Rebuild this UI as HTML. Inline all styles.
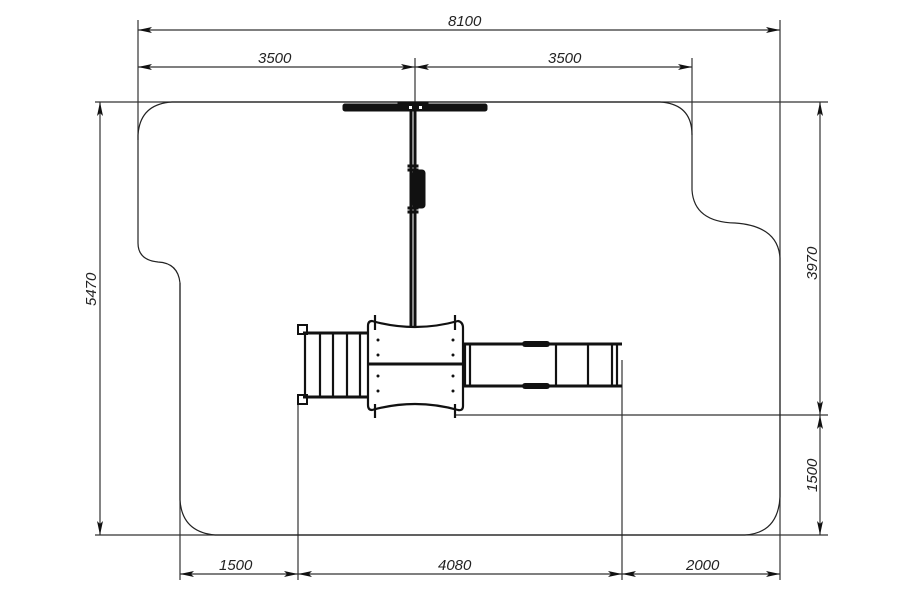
<!DOCTYPE html>
<html><head><meta charset="utf-8"><style>
html,body{margin:0;padding:0;background:#fff;}
svg{display:block}
text{font-family:"Liberation Sans",sans-serif;font-style:italic;font-size:15px;fill:#222}
</style></head><body>
<svg width="900" height="600" viewBox="0 0 900 600">
<defs>
<marker id="a" viewBox="0 0 14 6" refX="14" refY="3" markerWidth="14" markerHeight="6" orient="auto-start-reverse" markerUnits="userSpaceOnUse"><path d="M0,0 L14,3 L0,6 L3,3 Z" fill="#111"/></marker>
</defs>
<g stroke="#333" stroke-width="1.2" fill="none">
<line x1="138" y1="20" x2="138" y2="140"/>
<line x1="780" y1="20" x2="780" y2="580"/>
<line x1="415" y1="58" x2="415" y2="102"/>
<line x1="692" y1="58" x2="692" y2="135"/>
<line x1="95" y1="102" x2="828" y2="102"/>
<line x1="95" y1="535" x2="828" y2="535"/>
<line x1="455" y1="415" x2="828" y2="415"/>
<line x1="180" y1="283" x2="180" y2="580"/>
<line x1="298" y1="398" x2="298" y2="580"/>
<line x1="622" y1="360" x2="622" y2="580"/>
<line x1="138" y1="30" x2="780" y2="30" marker-start="url(#a)" marker-end="url(#a)"/>
<line x1="138" y1="67" x2="415" y2="67" marker-start="url(#a)" marker-end="url(#a)"/>
<line x1="415" y1="67" x2="692" y2="67" marker-start="url(#a)" marker-end="url(#a)"/>
<line x1="100" y1="102" x2="100" y2="535" marker-start="url(#a)" marker-end="url(#a)"/>
<line x1="820" y1="102" x2="820" y2="415" marker-start="url(#a)" marker-end="url(#a)"/>
<line x1="820" y1="415" x2="820" y2="535" marker-start="url(#a)" marker-end="url(#a)"/>
<line x1="180" y1="574" x2="298" y2="574" marker-start="url(#a)" marker-end="url(#a)"/>
<line x1="298" y1="574" x2="622" y2="574" marker-start="url(#a)" marker-end="url(#a)"/>
<line x1="622" y1="574" x2="780" y2="574" marker-start="url(#a)" marker-end="url(#a)"/>
<path stroke="#222" d="M172,102 L660,102 Q692,104 692,135 L692,190 Q694,222 735,223 Q778,226 780,258 L780,497 Q778,533 745,535 L215,535 Q182,532 180,500 L180,283 Q178,263 158,262 Q138,260 138,243 L138,135 Q140,104 172,102 Z"/>
</g>
<text x="258" y="63">3500</text>
<text x="548" y="63">3500</text>
<text x="448" y="26">8100</text>
<text x="219" y="570">1500</text>
<text x="438" y="570">4080</text>
<text x="686" y="570">2000</text>
<text transform="translate(96,306) rotate(-90)">5470</text>
<text transform="translate(817,280) rotate(-90)">3970</text>
<text transform="translate(817,492) rotate(-90)">1500</text>
<g fill="#111" stroke="#111">
<rect x="343" y="104" width="144" height="7" rx="2"/>
<rect x="398" y="102" width="30" height="4"/>
<rect x="410" y="110" width="2" height="216"/>
<rect x="414" y="110" width="2" height="216"/>
<rect x="408" y="165" width="10" height="2"/><rect x="408" y="169" width="10" height="2"/>
<rect x="408" y="207" width="10" height="2"/><rect x="408" y="211" width="10" height="2"/>
<rect x="413" y="170" width="12" height="38" rx="3"/>
</g>
<rect x="409" y="106" width="3" height="3" fill="#fff"/><rect x="419" y="106" width="3" height="3" fill="#fff"/>
<g stroke="#111" stroke-width="2.2" fill="none">
<path d="M372,321 Q415,333 458,321 Q463,322 463,328 L463,406 Q463,411 458,410 Q415,398 372,410 Q368,410 368,405 L368,326 Q368,321 372,321 Z" fill="#fff"/>
<line x1="369" y1="364" x2="462" y2="364" stroke-width="3"/>
<line x1="375" y1="315" x2="375" y2="330"/><line x1="455" y1="315" x2="455" y2="330"/>
<line x1="375" y1="404" x2="375" y2="418"/><line x1="455" y1="404" x2="455" y2="418"/>
<line x1="303" y1="333" x2="368" y2="333" stroke-width="3"/>
<line x1="303" y1="397" x2="368" y2="397" stroke-width="3"/>
<line x1="305" y1="334" x2="305" y2="396"/>
<line x1="320" y1="334" x2="320" y2="396"/>
<line x1="333" y1="334" x2="333" y2="396"/>
<line x1="347" y1="334" x2="347" y2="396"/>
<line x1="360" y1="334" x2="360" y2="396"/>
<rect x="298" y="325" width="9" height="9" stroke-width="2"/>
<rect x="298" y="395" width="9" height="9" stroke-width="2"/>
<line x1="463" y1="344" x2="622" y2="344" stroke-width="3"/>
<line x1="463" y1="386" x2="622" y2="386" stroke-width="3"/>
<line x1="465" y1="345" x2="465" y2="386"/>
<line x1="470" y1="345" x2="470" y2="386"/>
<line x1="556" y1="345" x2="556" y2="386"/>
<line x1="588" y1="345" x2="588" y2="386"/>
<line x1="612" y1="345" x2="612" y2="386"/>
<line x1="617" y1="345" x2="617" y2="386"/>
</g>
<rect x="522" y="341" width="28" height="6" rx="3" fill="#111"/>
<rect x="522" y="383" width="28" height="6" rx="3" fill="#111"/>
<g fill="#111">
<circle cx="378" cy="340" r="1.5"/><circle cx="378" cy="355" r="1.5"/><circle cx="378" cy="376" r="1.5"/><circle cx="378" cy="391" r="1.5"/>
<circle cx="453" cy="340" r="1.5"/><circle cx="453" cy="355" r="1.5"/><circle cx="453" cy="376" r="1.5"/><circle cx="453" cy="391" r="1.5"/>
</g>
</svg>
</body></html>
